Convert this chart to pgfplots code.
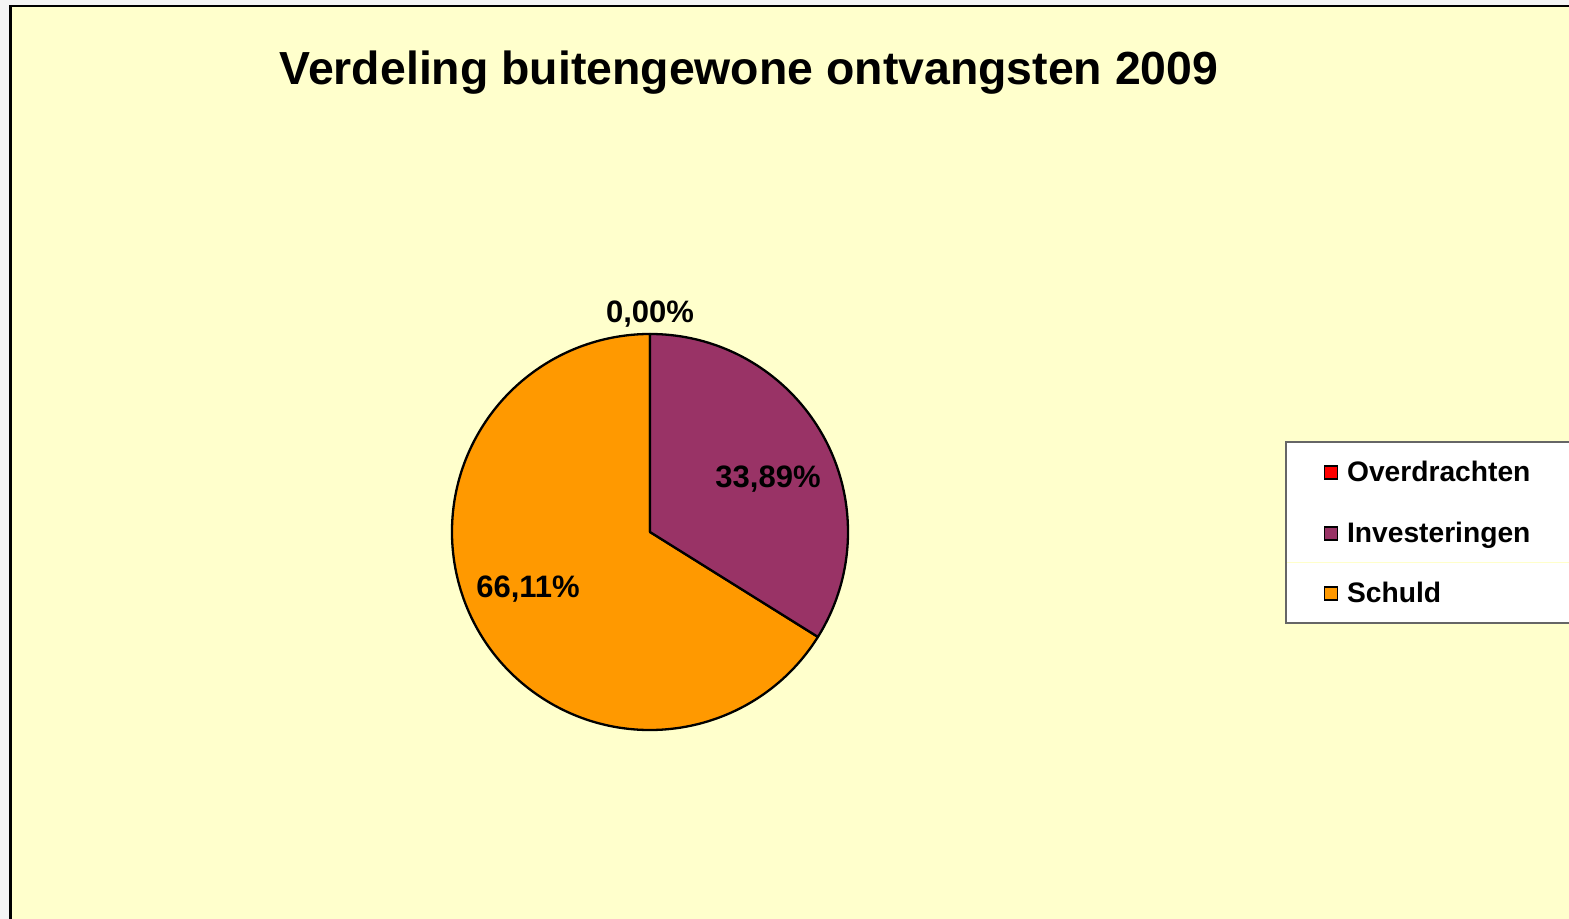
\documentclass[border=0pt]{standalone}
\usepackage{pgfplots}
\usepackage{pgfplotstable}
\pgfplotsset{compat=1.18}
\usepackage{fontspec}
\setmainfont{Liberation Sans}

\definecolor{bg}{HTML}{FFFFCC}
\definecolor{outer}{HTML}{F4F4F4}
\definecolor{overdr}{HTML}{FF0000}
\definecolor{invest}{HTML}{993366}
\definecolor{schuld}{HTML}{FF9900}

% share of each category, in percent
\pgfplotstableread{
name          value
Overdrachten  0.00
Investeringen 33.89
Schuld        66.11
}\piedata

\pgfplotstablegetelem{0}{value}\of\piedata \pgfmathsetmacro\va{\pgfplotsretval}
\pgfplotstablegetelem{1}{value}\of\piedata \pgfmathsetmacro\vb{\pgfplotsretval}
\pgfplotstablegetelem{2}{value}\of\piedata \pgfmathsetmacro\vc{\pgfplotsretval}
% slices run clockwise from 12 o'clock
\pgfmathsetmacro\aA{90}
\pgfmathsetmacro\aB{\aA-3.6*\va}
\pgfmathsetmacro\aC{\aB-3.6*\vb}
\pgfmathsetmacro\aD{\aC-3.6*\vc}

\begin{document}
\begin{tikzpicture}
\begin{axis}[
    name=ax,
    x=0.5pt, y=0.5pt, scale only axis,
    xmin=0, xmax=1569, ymin=0, ymax=919,
    hide axis, clip=false,
]
\addplot[draw=none] coordinates {(0,0) (1569,919)};
% chart area
\fill[outer] (axis cs:0,0) rectangle (axis cs:1569,919);
\fill[bg] (axis cs:10,0) rectangle (axis cs:1569,913.5);
\draw[black, line width=1.2pt] (axis cs:10.6,0) -- (axis cs:10.6,913.2) -- (axis cs:1569,913.2);
% title
\node[anchor=base, font=\bfseries\fontsize{23.2}{28}\selectfont]
  at (axis cs:749,834) {Verdeling buitengewone ontvangsten 2009};
% pie
\filldraw[fill=schuld, draw=black, line width=1.15pt, line join=round]
  (axis cs:650,387) -- ++(\aC:99pt) arc[start angle=\aC, end angle=\aD, radius=99pt] -- cycle;
\filldraw[fill=invest, draw=black, line width=1.15pt, line join=round]
  (axis cs:650,387) -- ++(\aB:99pt) arc[start angle=\aB, end angle=\aC, radius=99pt] -- cycle;
\draw[black, line width=1.15pt] (axis cs:650,387) -- ++(\aA:99pt);
% data labels
\begin{scope}[every node/.style={anchor=base, font=\bfseries\fontsize{15.5}{18}\selectfont}]
\node at (axis cs:650,596) {0,00\%};
\node at (axis cs:768,431) {33,89\%};
\node at (axis cs:528,321) {66,11\%};
\end{scope}
% legend
\fill[white] (axis cs:1286,296) rectangle (axis cs:1569,477);
\draw[black!60, line width=0.75pt] (axis cs:1569,477) -- (axis cs:1286,477) -- (axis cs:1286,296) -- (axis cs:1569,296);
\draw[bg!60!yellow!40, line width=0.5pt] (axis cs:1287,356) -- (axis cs:1569,356);
\begin{scope}[every node/.style={anchor=base west, font=\bfseries\fontsize{14.1}{17}\selectfont}]
\filldraw[fill=overdr, draw=black, line width=0.9pt] (axis cs:1324.5,440) rectangle (axis cs:1337.5,453);
\node at (axis cs:1340,437) {Overdrachten};
\filldraw[fill=invest, draw=black, line width=0.9pt] (axis cs:1324.5,379) rectangle (axis cs:1337.5,392);
\node at (axis cs:1340,376) {Investeringen};
\filldraw[fill=schuld, draw=black, line width=0.9pt] (axis cs:1324.5,319) rectangle (axis cs:1337.5,332);
\node at (axis cs:1340,316) {Schuld};
\end{scope}
\end{axis}
\pgfresetboundingbox
\path[use as bounding box] (ax.south west) rectangle (ax.north east);
\end{tikzpicture}
\end{document}
